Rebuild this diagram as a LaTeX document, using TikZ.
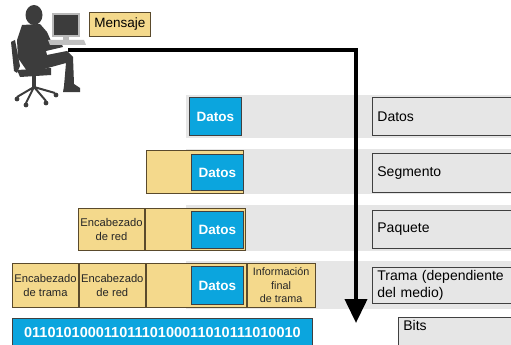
\documentclass[tikz,border=0pt]{standalone}
\usepackage{fontspec}
\setmainfont{Liberation Sans}
\usetikzlibrary{arrows.meta}

\definecolor{pduyellow}{HTML}{F4D98C}
\definecolor{pdublue}{HTML}{0BA5DE}
\definecolor{bandgray}{HTML}{E6E6E6}
\definecolor{edgebrown}{HTML}{5A4A2C}
\definecolor{figgray}{HTML}{3C3C3C}

\begin{document}
\begin{tikzpicture}[x=1pt,y=-1pt,
  pdu/.style={draw=edgebrown,fill=pduyellow,line width=0.9pt,anchor=north west,inner sep=0pt,align=center},
  hdr/.style={pdu,font=\fontsize{11.2}{14.5}\selectfont,text=black!85},
  datos/.style={draw=black!75,fill=pdublue,line width=0.9pt,anchor=north west,inner sep=0pt,minimum width=52pt,text=white,font=\bfseries\fontsize{13.5}{16}\selectfont},
  layer/.style={draw=black!75,fill=bandgray,line width=0.8pt,anchor=north west,inner xsep=5pt,inner ysep=0pt,text width=150pt,align=left,font=\fontsize{14}{18}\selectfont}]
  \clip (0,0) rectangle (511,345);

  % gray rows behind the layers
  \foreach \top/\bot in {95/138,149/194,205/251,261/309}
    \fill[bandgray] (186,\top) rectangle (511,\bot);

  % user at the computer
  \fill[figgray] (34,15) ellipse (8.5 and 10);
  \fill[figgray] (22,25) -- (40,24) -- (47,32) -- (51,41) -- (60,41) -- (63,47) -- (46,51) -- (47,55)
    -- (67,51) -- (73,57) -- (74,84) -- (80,88) -- (80,92) -- (63,92) -- (64,86) -- (66,63)
    -- (44,69) -- (27,71) -- (18,58) -- (17,40) -- cycle;
  \fill[figgray] (11,42) -- (15,40) -- (20,66) -- (17,73) -- (14,71) -- cycle;
  \fill[figgray] (17,70) -- (51,68) -- (51,75) -- (20,77) -- cycle;
  \fill[figgray] (32,75) rectangle (36,87);
  \draw[figgray,line width=2pt] (34,87) -- (17,97) (34,87) -- (26,103) (34,87) -- (46,101) (34,87) -- (55,93);
  \foreach \wx/\wy in {17/99,26/105,46/103,56/95}
    \fill[figgray] (\wx,\wy) circle (2.4pt);
  \filldraw[fill=figgray,draw=gray!55,line width=1.2pt] (53,14) rectangle (79,36);
  \fill[gray!55] (63,36) rectangle (69,40);
  \fill[gray!50] (48,40) -- (84,40) -- (86,45) -- (50,45) -- cycle;

  \node[pdu,minimum width=61pt,minimum height=24pt,font=\fontsize{13.5}{16}\selectfont] (msg) at (89,12) {Mensaje};

  % encapsulation rows
  \node[datos,minimum height=38pt] (datos1) at (189,97) {Datos};

  \node[pdu,minimum width=97pt,minimum height=43pt] (seg) at (146,150) {};
  \node[datos,minimum height=36pt] (datos2) at (191,154) {Datos};

  \node[hdr,minimum width=66pt,minimum height=42pt] (redhdr3) at (78,208) {Encabezado\\de red};
  \node[pdu,minimum width=100pt,minimum height=42pt] (pad3) at (redhdr3.north east) {};
  \node[datos,minimum height=37pt] (datos3) at (191,211) {Datos};

  \node[hdr,minimum width=66pt,minimum height=44pt] (tramahdr) at (12,263) {Encabezado\\de trama};
  \node[hdr,minimum width=66pt,minimum height=44pt] (redhdr4) at (tramahdr.north east) {Encabezado\\de red};
  \node[pdu,minimum width=100pt,minimum height=44pt] (pad4) at (redhdr4.north east) {};
  \node[hdr,minimum width=68pt,minimum height=44pt,font=\fontsize{10.8}{13.5}\selectfont] (info) at (pad4.north east) {Información\\final\\de trama};
  \node[datos,minimum height=38pt] (datos4) at (191,266) {Datos};

  \node[datos,minimum width=300pt,minimum height=28pt,font=\bfseries\fontsize{14.5}{16}\selectfont] (bits) at (12,318) {01101010001101110100011010111010010};

  % layer names
  \node[layer,minimum height=38pt] (lbldatos) at (372,97) {Datos};
  \node[layer,minimum height=39pt] (lblseg) at (372,153) {Segmento};
  \node[layer,minimum height=38pt] (lblpaq) at (372,210) {Paquete};
  \node[layer,minimum height=36pt,font=\fontsize{14}{17}\selectfont] (lbltrama) at (372,267) {Trama (dependiente\\del medio)};
  \node[layer,minimum height=34pt] (lblbits) at (398,317) {Bits\\ \mbox{}};

  % path of the message down the stack
  \coordinate (desk) at (68,50);
  \coordinate (bend) at (356,50);
  \coordinate (wire) at (356,323);
  \draw[line width=4pt,-{Triangle[width=22pt,length=24pt]}] (desk) -- (bend) -- (wire);
\end{tikzpicture}
\end{document}
